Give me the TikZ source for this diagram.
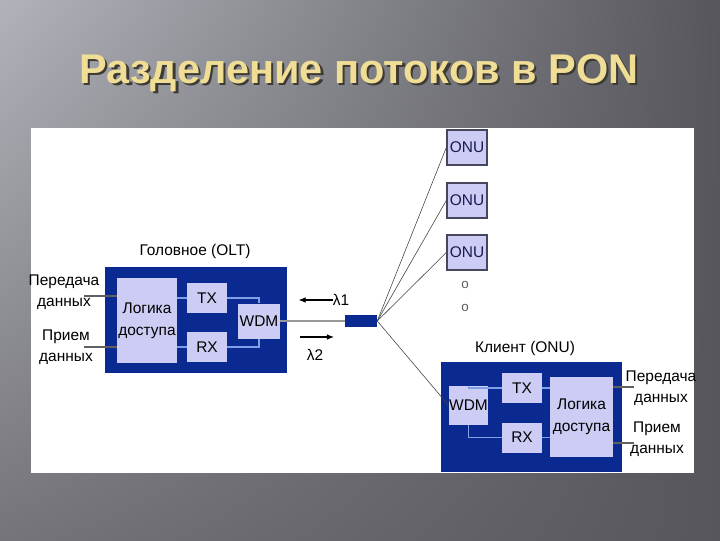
\documentclass[tikz,border=0pt]{standalone}
\usepackage{fontspec}
\setmainfont{Liberation Sans}
\usepackage{tikz}
\usetikzlibrary{
	positioning,
	calc,
	arrows.meta,
	shadings
}

\definecolor{bgLight}{RGB}{178,178,186}
\definecolor{bgMid}{RGB}{116,116,122}
\definecolor{bgDark}{RGB}{86,86,92}
\definecolor{titleGold}{RGB}{240,222,150}
\definecolor{titleShade}{RGB}{60,58,50}
\definecolor{blockBlue}{RGB}{10,42,145}
\definecolor{unitFill}{RGB}{204,204,244}
\definecolor{linkBlue}{RGB}{125,160,230}
\definecolor{onuEdge}{RGB}{70,70,95}
\definecolor{onuText}{RGB}{25,25,80}

% Text with a dark drop shadow
\newcommand{\shadowtext}[1]{%
	\makebox[0pt][l]{\hspace{1.6pt}\raisebox{-1.6pt}{\textcolor{titleShade}{#1}}}#1}

\begin{document}
\begin{tikzpicture}[
	x=0.025cm,y=-0.025cm,
	c_title/.style={
		font=\fontsize{29.5}{31}\selectfont\bfseries,
		text=titleGold
	},
	c_text/.style={
		font=\fontsize{11}{15}\selectfont,
		text=black,
		align=center,
		inner sep=0pt
	},
	c_block/.style={
		fill=blockBlue,
		inner sep=0pt
	},
	c_unit/.style={
		fill=unitFill,
		font=\fontsize{11}{15.5}\selectfont,
		align=center,
		inner sep=0pt
	},
	c_onu/.style={
		c_unit,
		draw=onuEdge,
		line width=1pt,
		text=onuText,
		minimum width=1.0cm,
		minimum height=0.875cm
	},
	c_link/.style={
		draw=linkBlue,
		line width=1pt
	},
	c_data/.style={
		draw=gray!75!black,
		line width=1.2pt
	},
	c_fibre/.style={
		draw=gray!80,
		line width=1.6pt
	},
	c_fan/.style={
		draw=black!75,
		line width=0.4pt
	},
	c_wave/.style={
		draw=black,
		line width=0.8pt,
		-{Latex[length=5pt,width=4pt]}
	}
	]

	% =========================================================================
	% SLIDE BACKGROUND
	% =========================================================================

	\useasboundingbox (0,0) rectangle (720,540);

	\shade[upper left=bgLight, upper right=bgDark,
	lower left=bgMid, lower right=bgDark]
	(0,0) rectangle (720,540);

	% Title
	\node[c_title] (title)
	at (359,74) {\shadowtext{Разделение потоков в PON}};

	% White panel
	\fill[white] (31,128) rectangle (694,473);

	% =========================================================================
	% HEAD END (OLT)
	% =========================================================================

	\node[c_block, minimum width=4.55cm, minimum height=2.65cm] (olt)
	at (196,320) {};

	\node[c_text] (oltname) at (195,251) {Головное (OLT)};

	\node[c_unit, minimum width=1.5cm, minimum height=2.125cm] (oltlogic)
	at (147,320.5) {Логика\\доступа};

	\node[c_unit, minimum width=1.0cm, minimum height=0.75cm] (olttx)
	at (207,298) {TX};

	\node[c_unit, minimum width=1.0cm, minimum height=0.75cm] (oltrx)
	at (207,347) {RX};

	\node[c_unit, minimum width=1.05cm, minimum height=0.875cm] (oltwdm)
	at (259,321) {WDM};

	% Inner links
	\draw[c_link] (olttx.west) -- (olttx.west -| oltlogic.east);
	\draw[c_link] (oltrx.west) -- (oltrx.west -| oltlogic.east);
	\draw[c_link] (olttx.east) -| (oltwdm.north);
	\draw[c_link] (oltrx.east) -| (oltwdm.south);

	% Data in / out
	\node[c_text] (oltsend) at (64,292) {Передача\\данных};
	\node[c_text] (oltrecv) at (66,347) {Прием\\данных};

	\coordinate (oltsendin) at (84,296);
	\coordinate (oltrecvin) at (84,347);

	\draw[c_data] (oltsendin) -- (oltsendin -| oltlogic.west);
	\draw[c_data] (oltrecvin) -- (oltrecvin -| oltlogic.west);

	% =========================================================================
	% FIBRE AND SPLITTER
	% =========================================================================

	\node[c_block, minimum width=0.8cm, minimum height=0.28cm] (splitter)
	at (361,321) {};

	\draw[c_fibre] (oltwdm.east) -- (oltwdm.east -| splitter.west);

	% Wavelengths
	\node[c_text] (lamone) at (341,300) {λ1};
	\draw[c_wave] (lamone.west) -- ++(-34,0);

	\node[c_text] (lamtwo) at (315,355) {λ2};
	\coordinate (lamtwostart) at (300,337);
	\draw[c_wave] (lamtwostart) -- ++(34,0);

	% =========================================================================
	% ONU BRANCHES
	% =========================================================================

	\node[c_onu] (onua) at (467,147.5) {ONU};
	\node[c_onu] (onub) at (467,200.5) {ONU};
	\node[c_onu] (onuc) at (467,252.5) {ONU};

	\node[c_text, text=gray!70!black, font=\fontsize{9.5}{9.5}\selectfont] (dota)
	at (465,285) {o};
	\node[c_text, text=gray!70!black, font=\fontsize{9.5}{9.5}\selectfont] (dotb)
	at (465,308) {o};

	% =========================================================================
	% CLIENT (ONU)
	% =========================================================================

	\node[c_block, minimum width=4.525cm, minimum height=2.75cm] (onu)
	at (531.5,417) {};

	\node[c_text] (onuname) at (525,348) {Клиент (ONU)};

	\node[c_unit, minimum width=0.975cm, minimum height=0.975cm] (onuwdm)
	at (468.5,405.5) {WDM};

	\node[c_unit, minimum width=1.0cm, minimum height=0.75cm] (onutx)
	at (522,388) {TX};

	\node[c_unit, minimum width=1.0cm, minimum height=0.75cm] (onurx)
	at (522,437.5) {RX};

	\node[c_unit, minimum width=1.575cm, minimum height=2.0cm] (onulogic)
	at (581.5,417) {Логика\\доступа};

	% Inner links
	\draw[c_link] (onuwdm.north) |- (onutx.west);
	\draw[c_link] (onuwdm.south) |- (onurx.west);
	\draw[c_link] (onutx.east) -- (onutx.east -| onulogic.west);
	\draw[c_link] (onurx.east) -- (onurx.east -| onulogic.west);

	% Data out / in
	\node[c_text] (onusend) at (661,388) {Передача\\данных};
	\node[c_text] (onurecv) at (657,439) {Прием\\данных};

	\coordinate (onusendout) at (634,387);
	\coordinate (onurecvout) at (634,443);

	\draw[c_data] (onulogic.east |- onusendout) -- (onusendout);
	\draw[c_data] (onulogic.east |- onurecvout) -- (onurecvout);

	% Fan-out from splitter
	\foreach \dest in {onua,onub,onuc,onuwdm}
	{
		\draw[c_fan] (splitter.east) -- (\dest.west);
	}

\end{tikzpicture}
\end{document}
